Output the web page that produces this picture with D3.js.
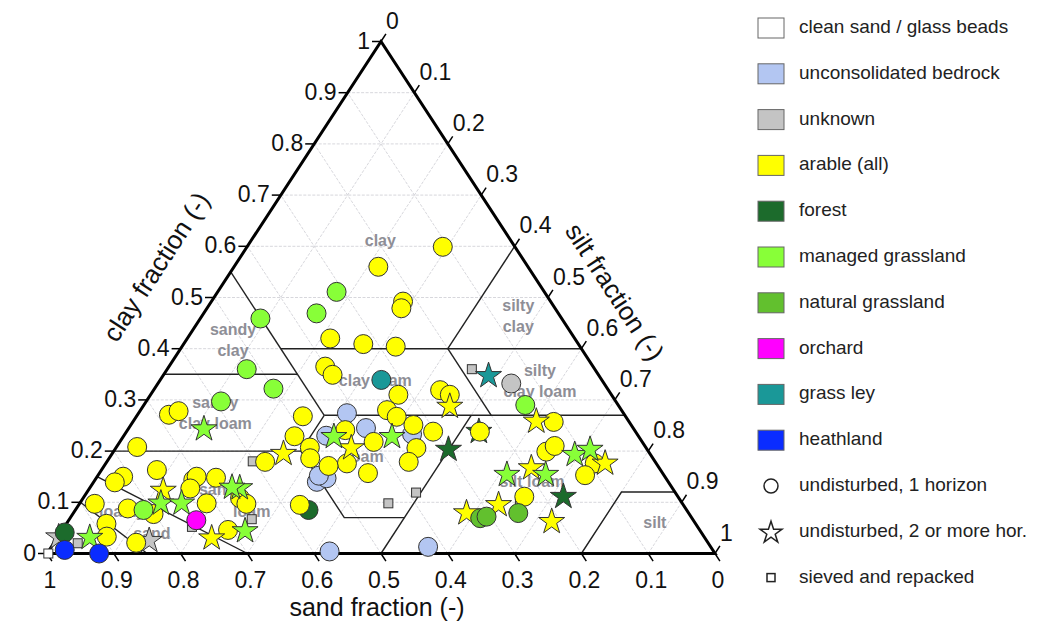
<!DOCTYPE html>
<html>
<head>
<meta charset="utf-8">
<script src="https://cdn.jsdelivr.net/npm/d3@7"></script>
<style>
  body { margin: 0; background: #fff; }
  svg { display: block; font-family: Arial, "Liberation Sans", sans-serif; }
</style>
</head>
<body>
<div id="chart"></div>
<script>
// points are [sand, clay]; silt = 1 - sand - clay
const cleanSandSieved = [[0.998, 0.0]];
const bedrockCircles = [[0.414, 0.274], [0.400, 0.245], [0.337, 0.233], [0.467, 0.230], [0.526, 0.140], [0.508, 0.147], [0.517, 0.152], [0.575, 0.004], [0.423, 0.013]];
const unknownCircles = [[0.139, 0.332]];
const unknownStars = [[0.965, 0.035], [0.833, 0.028]];
const unknownSieved = [[0.944, 0.020], [0.757, 0.052], [0.660, 0.067], [0.602, 0.180], [0.440, 0.098], [0.388, 0.119], [0.184, 0.360], [0.243, 0.098]];
const forestCircles = [[0.953, 0.041], [0.566, 0.085]];
const forestStars = [[0.296, 0.206], [0.170, 0.114], [0.233, 0.241]];
const arableCircles = [
  [0.108, 0.599], [0.224, 0.560], [0.221, 0.492], [0.230, 0.479], [0.366, 0.420], [0.322, 0.409], [0.276, 0.404], [0.401, 0.365], [0.398, 0.349],
  [0.252, 0.319], [0.242, 0.310], [0.319, 0.310], [0.351, 0.280], [0.343, 0.267], [0.326, 0.251], [0.303, 0.238], [0.483, 0.268], [0.433, 0.241],
  [0.402, 0.218], [0.344, 0.206], [0.515, 0.229], [0.503, 0.207], [0.513, 0.186], [0.584, 0.179], [0.463, 0.176], [0.493, 0.171], [0.369, 0.179],
  [0.441, 0.157], [0.574, 0.095], [0.233, 0.238], [0.153, 0.199], [0.135, 0.210], [0.113, 0.257], [0.092, 0.176], [0.118, 0.153], [0.230, 0.111],
  [0.682, 0.271], [0.664, 0.278], [0.761, 0.208], [0.754, 0.163], [0.811, 0.150], [0.829, 0.139], [0.709, 0.144], [0.701, 0.150], [0.722, 0.127],
  [0.673, 0.148], [0.657, 0.108], [0.653, 0.097], [0.712, 0.098], [0.880, 0.097], [0.835, 0.088], [0.802, 0.077], [0.882, 0.058], [0.894, 0.033],
  [0.856, 0.021], [0.706, 0.046]
];
const arableStars = [[0.763, 0.126], [0.737, 0.033], [0.547, 0.198], [0.440, 0.209], [0.252, 0.290], [0.137, 0.261], [0.075, 0.179], [0.190, 0.170], [0.275, 0.098], [0.331, 0.082], [0.212, 0.065]];
const managedCircles = [[0.521, 0.360], [0.451, 0.459], [0.362, 0.469], [0.311, 0.511], [0.500, 0.322], [0.591, 0.297], [0.813, 0.085], [0.139, 0.290]];
const managedStars = [[0.642, 0.246], [0.646, 0.131], [0.657, 0.132], [0.680, 0.047], [0.779, 0.101], [0.748, 0.101], [0.919, 0.034], [0.455, 0.231], [0.368, 0.231], [0.112, 0.196], [0.084, 0.206], [0.175, 0.157], [0.233, 0.157]];
const naturalCircles = [[0.317, 0.069], [0.306, 0.072], [0.255, 0.079]];
const orchardCircles = [[0.744, 0.065]];
const leyCircles = [[0.330, 0.339]];
const leyStars = [[0.164, 0.350]];
const heathCircles = [[0.970, 0.007], [0.922, 0.0]];

const ticks = d3.range(0, 11).map(i => i / 10);
const tickLabels = ['0', '0.1', '0.2', '0.3', '0.4', '0.5', '0.6', '0.7', '0.8', '0.9', '1'];

const legendNames = ['clean sand / glass beads', 'unconsolidated bedrock', 'unknown', 'arable (all)', 'forest', 'managed grassland', 'natural grassland', 'orchard', 'grass ley', 'heathland'];
const legendColors = ['#ffffff', '#b3c6f2', '#c4c4c4', '#ffff00', '#1c6b2c', '#88ff38', '#62c02e', '#ff00ff', '#1a9898', '#0a2cff'];
const shapeNames = ['undisturbed, 1 horizon', 'undisturbed, 2 or more hor.', 'sieved and repacked'];

// USDA class boundaries, [sand, clay]
const boundaries = [
  [[0.45, 0.55], [0.45, 0.27]],
  [[0.65, 0.35], [0.45, 0.35]],
  [[0.45, 0.40], [0.0, 0.40]],
  [[0.0, 0.60], [0.20, 0.40]],
  [[0.20, 0.40], [0.20, 0.27]],
  [[0.45, 0.27], [0.0, 0.27]],
  [[0.80, 0.20], [0.52, 0.20], [0.45, 0.27]],
  [[0.52, 0.20], [0.52, 0.07], [0.43, 0.07]],
  [[0.23, 0.27], [0.50, 0.0]],
  [[0.0, 0.12], [0.08, 0.12], [0.20, 0.0]],
  [[0.85, 0.15], [0.70, 0.0]],
  [[0.90, 0.10], [0.85, 0.0]]
];
const classLabels = [
  { lines: ['clay'], at: [0.197, 0.608] },
  { lines: ['sandy', 'clay'], at: [0.514, 0.415] },
  { lines: ['sandy', 'clay loam'], at: [0.612, 0.272] },
  { lines: ['silty', 'clay'], at: [0.064, 0.461] },
  { lines: ['silty', 'clay loam'], at: [0.095, 0.334] },
  { lines: ['clay loam'], at: [0.341, 0.335] },
  { lines: ['loam'], at: [0.431, 0.186] },
  { lines: ['silt loam'], at: [0.205, 0.138] },
  { lines: ['silt'], at: [0.061, 0.058] },
  { lines: ['sandy'], at: [0.677, 0.122] },
  { lines: ['loam'], at: [0.654, 0.079] },
  { lines: ['loamy'], at: [0.848, 0.079] },
  { lines: ['sand'], at: [0.825, 0.036] }
];

const width = 1059, height = 622;
const xScale = d3.scaleLinear().domain([0, 1]).range([47, 715]);
const yScale = d3.scaleLinear().domain([0, 1]).range([553.5, 41.5]);
const px = d => xScale(1 - d[0] - d[1] + d[1] / 2);
const py = d => yScale(d[1]);
const pt = d => [px(d), py(d)];

const svg = d3.select('#chart').append('svg').attr('width', width).attr('height', height);
const g = svg.append('g');

// grid
const grid = [];
ticks.slice(1, 10).forEach(v => {
  grid.push([[1 - v, v], [0, v]]);
  grid.push([[v, 0], [v, 1 - v]]);
  grid.push([[1 - v, 0], [0, 1 - v]]);
});
const line = d3.line().x(px).y(py);
g.selectAll('.grid').data(grid).enter().append('path')
  .attr('class', 'grid').attr('d', line)
  .attr('fill', 'none').attr('stroke', '#d2d2d8').attr('stroke-width', 0.9).attr('stroke-dasharray', '3,1.5');

g.selectAll('.bound').data(boundaries).enter().append('path')
  .attr('class', 'bound').attr('d', line)
  .attr('fill', 'none').attr('stroke', '#222').attr('stroke-width', 1.4);

// class labels
classLabels.forEach(c => {
  const t = g.append('text').attr('x', px(c.at)).attr('y', py(c.at) - (c.lines.length - 1) * 10.5)
    .attr('text-anchor', 'middle').attr('dominant-baseline', 'middle')
    .style('font-size', '16px').style('font-weight', 'bold').style('fill', '#8e8e96');
  c.lines.forEach((s, i) => t.append('tspan').attr('x', px(c.at)).attr('dy', i ? 21 : 0).text(s));
});

// triangle frame
g.append('path').attr('d', line([[1, 0], [0, 1], [0, 0], [1, 0]]) + 'Z')
  .attr('fill', 'none').attr('stroke', '#000').attr('stroke-width', 3).attr('stroke-linejoin', 'miter');

// ticks and labels
const tl = 9;
const ux = 334 / Math.hypot(334, 512), uy = 512 / Math.hypot(334, 512);
ticks.forEach((v, i) => {
  // sand axis along bottom
  const s = pt([v, 0]);
  g.append('line').attr('x1', s[0]).attr('y1', s[1]).attr('x2', s[0] + ux * tl).attr('y2', s[1] + uy * tl).attr('stroke', '#000').attr('stroke-width', 1.5);
  g.append('text').attr('x', s[0] + 3).attr('y', 588).attr('text-anchor', 'middle').style('font-size', '23px').style('fill', '#111').text(tickLabels[i]);
  // clay axis along left
  const c = pt([1 - v, v]);
  g.append('line').attr('x1', c[0]).attr('y1', c[1]).attr('x2', c[0] - tl).attr('y2', c[1]).attr('stroke', '#000').attr('stroke-width', 1.5);
  g.append('text').attr('x', c[0] - 11).attr('y', c[1] + 1).attr('text-anchor', 'end').attr('dominant-baseline', 'middle').style('font-size', '23px').style('fill', '#111').text(tickLabels[i]);
  // silt axis along right
  const r = pt([0, 1 - v]);
  g.append('line').attr('x1', r[0]).attr('y1', r[1]).attr('x2', r[0] + ux * tl).attr('y2', r[1] - uy * tl).attr('stroke', '#000').attr('stroke-width', 1.5);
  g.append('text').attr('x', r[0] + 5).attr('y', r[1] - 19).attr('dominant-baseline', 'middle').style('font-size', '23px').style('fill', '#111').text(tickLabels[i]);
});

const ang = Math.atan2(512, 334) * 180 / Math.PI;
g.append('text').attr('transform', `translate(377,609)`).attr('text-anchor', 'middle').attr('dominant-baseline', 'middle')
  .style('font-size', '25px').style('fill', '#111').text('sand fraction (-)');
g.append('text').attr('transform', `translate(158,268) rotate(${-ang})`).attr('text-anchor', 'middle').attr('dominant-baseline', 'middle')
  .style('font-size', '26px').style('fill', '#111').text('clay fraction (-)');
g.append('text').attr('transform', `translate(613,293) rotate(${ang})`).attr('text-anchor', 'middle').attr('dominant-baseline', 'middle')
  .style('font-size', '26px').style('fill', '#111').text('silt fraction (-)');

// markers
const star = d3.symbol().type(d3.symbolStar).size(210);
const series = [
  { pts: cleanSandSieved, col: 0, shape: 'sq' },
  { pts: unknownSieved, col: 2, shape: 'sq' },
  { pts: bedrockCircles, col: 1, shape: 'c' },
  { pts: unknownCircles, col: 2, shape: 'c' },
  { pts: unknownStars, col: 2, shape: 's' },
  { pts: forestCircles, col: 4, shape: 'c' },
  { pts: forestStars, col: 4, shape: 's' },
  { pts: arableCircles, col: 3, shape: 'c' },
  { pts: arableStars, col: 3, shape: 's' },
  { pts: managedCircles, col: 5, shape: 'c' },
  { pts: managedStars, col: 5, shape: 's' },
  { pts: naturalCircles, col: 6, shape: 'c' },
  { pts: orchardCircles, col: 7, shape: 'c' },
  { pts: leyCircles, col: 8, shape: 'c' },
  { pts: leyStars, col: 8, shape: 's' },
  { pts: heathCircles, col: 9, shape: 'c' }
];
const marks = g.append('g');
series.forEach(s => {
  const sel = marks.selectAll(null).data(s.pts).enter();
  let m;
  if (s.shape === 'c') m = sel.append('circle').attr('cx', px).attr('cy', py).attr('r', 9.5);
  else if (s.shape === 's') m = sel.append('path').attr('d', star).attr('transform', d => `translate(${px(d)},${py(d) + 1.5})`);
  else m = sel.append('rect').attr('x', d => px(d) - 4.5).attr('y', d => py(d) - 4.5).attr('width', 9).attr('height', 9);
  m.attr('fill', legendColors[s.col]).attr('stroke', '#333').attr('stroke-width', 1);
});

// legend
const lg = svg.append('g');
const rowY = i => 28 + i * 45.8;
legendNames.forEach((n, i) => {
  lg.append('rect').attr('x', 758).attr('y', rowY(i) - 10).attr('width', 26).attr('height', 20)
    .attr('fill', legendColors[i]).attr('stroke', '#666').attr('stroke-width', 1);
  lg.append('text').attr('x', 799).attr('y', rowY(i)).attr('dominant-baseline', 'middle')
    .style('font-size', '19px').style('fill', '#222').text(n);
});
shapeNames.forEach((n, j) => {
  const y = rowY(legendNames.length + j), x = 771;
  if (j === 0) lg.append('circle').attr('cx', x).attr('cy', y).attr('r', 7).attr('fill', '#fff').attr('stroke', '#222').attr('stroke-width', 1.5);
  else if (j === 1) lg.append('path').attr('d', d3.symbol().type(d3.symbolStar).size(150)()).attr('transform', `translate(${x},${y + 1})`).attr('fill', '#fff').attr('stroke', '#222').attr('stroke-width', 1.5);
  else lg.append('rect').attr('x', x - 4).attr('y', y - 4).attr('width', 8).attr('height', 8).attr('fill', '#fff').attr('stroke', '#222').attr('stroke-width', 1.5);
  lg.append('text').attr('x', 799).attr('y', y).attr('dominant-baseline', 'middle')
    .style('font-size', '19px').style('fill', '#222').text(n);
});
</script>
</body>
</html>
